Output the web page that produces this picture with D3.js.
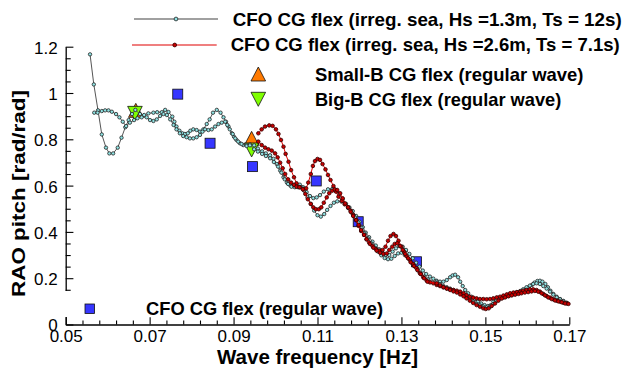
<!DOCTYPE html>
<html lang="en">
<head>
<meta charset="UTF-8">
<title>RAO pitch</title>
<script src="https://cdnjs.cloudflare.com/ajax/libs/d3/7.8.5/d3.min.js"></script>
<style>
  body{margin:0;background:#fff;}
  svg{display:block;font-family:"Liberation Sans",Arial,sans-serif;}
</style>
</head>
<body>
<svg id="chart" width="627" height="369"></svg>
<script>
// irregular sea Hs=1.3m Ts=12s (two runs) [freq Hz, RAO]
var cyanA = [[0.0558,1.167],[0.0567,1.037],[0.0577,0.925],[0.0586,0.821],[0.0596,0.764],[0.0604,0.739],[0.0613,0.739],[0.0624,0.764],[0.0633,0.807],[0.0642,0.852],[0.0650,0.883],[0.0658,0.909],[0.0666,0.927],[0.0677,0.909],[0.0687,0.905],[0.0697,0.912],[0.0709,0.915],[0.0718,0.917],[0.0729,0.917],[0.0737,0.927],[0.0745,0.918],[0.0754,0.898],[0.0759,0.876],[0.0764,0.855],[0.0771,0.837],[0.0778,0.826],[0.0784,0.823],[0.0791,0.826],[0.0797,0.837],[0.0804,0.843],[0.0812,0.840],[0.0820,0.833],[0.0828,0.843],[0.0836,0.866],[0.0843,0.886],[0.0851,0.915],[0.0860,0.927],[0.0869,0.915],[0.0876,0.895],[0.0882,0.876],[0.0888,0.855],[0.0896,0.826],[0.0901,0.811],[0.0907,0.797],[0.0915,0.783],[0.0923,0.775],[0.0931,0.775],[0.0939,0.778],[0.0949,0.774],[0.0958,0.760],[0.0968,0.748],[0.0977,0.739],[0.0987,0.731],[0.0995,0.716],[0.1003,0.693],[0.1011,0.665],[0.1019,0.636],[0.1027,0.613],[0.1035,0.601],[0.1043,0.598],[0.1050,0.601],[0.1058,0.604],[0.1066,0.593],[0.1074,0.572],[0.1082,0.555],[0.1090,0.546],[0.1098,0.549],[0.1106,0.559],[0.1115,0.574],[0.1125,0.584],[0.1135,0.585],[0.1144,0.581],[0.1152,0.564],[0.1160,0.541],[0.1168,0.521],[0.1176,0.506],[0.1184,0.490],[0.1192,0.469],[0.1200,0.444],[0.1208,0.420],[0.1215,0.397],[0.1223,0.377],[0.1231,0.358],[0.1239,0.341],[0.1247,0.325],[0.1255,0.310],[0.1263,0.300],[0.1271,0.300],[0.1279,0.315],[0.1287,0.329],[0.1295,0.339],[0.1303,0.336],[0.1311,0.322],[0.1319,0.305],[0.1327,0.286],[0.1335,0.267],[0.1343,0.250],[0.1351,0.233],[0.1359,0.218],[0.1368,0.207],[0.1376,0.198],[0.1384,0.189],[0.1392,0.185],[0.1400,0.185],[0.1408,0.192],[0.1416,0.204],[0.1422,0.212],[0.1428,0.215],[0.1435,0.204],[0.1440,0.185],[0.1446,0.166],[0.1452,0.149],[0.1459,0.135],[0.1467,0.120],[0.1475,0.109],[0.1482,0.099],[0.1490,0.091],[0.1498,0.084],[0.1506,0.080],[0.1513,0.084],[0.1519,0.099],[0.1525,0.109],[0.1532,0.115],[0.1540,0.117],[0.1548,0.120],[0.1556,0.123],[0.1563,0.127],[0.1571,0.132],[0.1579,0.138],[0.1587,0.143],[0.1595,0.152],[0.1603,0.161],[0.1611,0.171],[0.1617,0.181],[0.1624,0.188],[0.1630,0.189],[0.1636,0.185],[0.1643,0.175],[0.1649,0.161],[0.1655,0.146],[0.1662,0.132],[0.1670,0.120],[0.1678,0.110],[0.1686,0.102],[0.1694,0.094]];
var cyanB = [[0.0568,0.915],[0.0576,0.915],[0.0586,0.922],[0.0594,0.925],[0.0602,0.925],[0.0610,0.919],[0.0620,0.909],[0.0628,0.895],[0.0636,0.876],[0.0644,0.857],[0.0653,0.872],[0.0663,0.883],[0.0671,0.891],[0.0681,0.895],[0.0693,0.895],[0.0701,0.883],[0.0709,0.879],[0.0717,0.886],[0.0725,0.901],[0.0733,0.909],[0.0741,0.905],[0.0749,0.886],[0.0757,0.862],[0.0764,0.843],[0.0772,0.826],[0.0780,0.814],[0.0788,0.809],[0.0796,0.804],[0.0804,0.804],[0.0812,0.809],[0.0820,0.819],[0.0826,0.833],[0.0832,0.843],[0.0840,0.840],[0.0848,0.843],[0.0856,0.855],[0.0864,0.866],[0.0872,0.872],[0.0880,0.876],[0.0885,0.862],[0.0891,0.843],[0.0898,0.823],[0.0904,0.804],[0.0911,0.790],[0.0919,0.780],[0.0931,0.771],[0.0939,0.774],[0.0949,0.757],[0.0958,0.747],[0.0968,0.737],[0.0977,0.728],[0.0987,0.718],[0.0996,0.702],[0.1006,0.682],[0.1014,0.656],[0.1022,0.627],[0.1030,0.607],[0.1038,0.595],[0.1046,0.593],[0.1054,0.593],[0.1062,0.593],[0.1068,0.578],[0.1076,0.549],[0.1084,0.521],[0.1092,0.492],[0.1100,0.472],[0.1108,0.466],[0.1116,0.477],[0.1123,0.495],[0.1131,0.512],[0.1139,0.526],[0.1147,0.532],[0.1157,0.531],[0.1165,0.521],[0.1173,0.503],[0.1181,0.483],[0.1189,0.463],[0.1197,0.440],[0.1205,0.417],[0.1212,0.394],[0.1220,0.372],[0.1228,0.351],[0.1236,0.332],[0.1244,0.315],[0.1252,0.299],[0.1260,0.287],[0.1268,0.282],[0.1276,0.284],[0.1284,0.296],[0.1292,0.307],[0.1300,0.310],[0.1308,0.300],[0.1316,0.286],[0.1324,0.267],[0.1332,0.250],[0.1340,0.233],[0.1347,0.218],[0.1355,0.207],[0.1363,0.195],[0.1384,0.185],[0.1392,0.175],[0.1400,0.166],[0.1408,0.161],[0.1416,0.155],[0.1424,0.149],[0.1432,0.143],[0.1440,0.138],[0.1448,0.130],[0.1455,0.120],[0.1463,0.109],[0.1471,0.099],[0.1479,0.089],[0.1487,0.083],[0.1495,0.077],[0.1503,0.074],[0.1511,0.077],[0.1519,0.089],[0.1527,0.103],[0.1535,0.112],[0.1543,0.117],[0.1551,0.123],[0.1559,0.129],[0.1567,0.135],[0.1575,0.139],[0.1583,0.145],[0.1590,0.152],[0.1598,0.161],[0.1606,0.168],[0.1614,0.175],[0.1622,0.178],[0.1630,0.175],[0.1638,0.166],[0.1646,0.155],[0.1654,0.142],[0.1662,0.129],[0.1670,0.117],[0.1678,0.109],[0.1686,0.100],[0.1694,0.093]];

// irregular sea Hs=2.6m Ts=7.1s (two runs)
var redA = [[0.0959,0.826],[0.0967,0.843],[0.0975,0.855],[0.0985,0.860],[0.0993,0.858],[0.1001,0.843],[0.1007,0.823],[0.1013,0.797],[0.1019,0.768],[0.1024,0.737],[0.1031,0.703],[0.1037,0.667],[0.1044,0.636],[0.1050,0.610],[0.1058,0.593],[0.1066,0.584],[0.1073,0.588],[0.1078,0.613],[0.1084,0.650],[0.1089,0.685],[0.1094,0.706],[0.1100,0.715],[0.1106,0.711],[0.1112,0.693],[0.1119,0.670],[0.1125,0.646],[0.1131,0.624],[0.1138,0.598],[0.1144,0.574],[0.1150,0.552],[0.1158,0.534],[0.1165,0.519],[0.1173,0.506],[0.1179,0.492],[0.1185,0.473],[0.1192,0.451],[0.1198,0.426],[0.1204,0.404],[0.1211,0.387],[0.1217,0.368],[0.1223,0.354],[0.1231,0.339],[0.1239,0.326],[0.1247,0.319],[0.1255,0.322],[0.1262,0.336],[0.1268,0.362],[0.1274,0.382],[0.1281,0.391],[0.1287,0.382],[0.1293,0.362],[0.1300,0.336],[0.1306,0.315],[0.1312,0.296],[0.1320,0.279],[0.1328,0.261],[0.1336,0.243],[0.1344,0.221],[0.1352,0.204],[0.1360,0.190],[0.1368,0.182],[0.1376,0.178],[0.1384,0.171],[0.1392,0.166],[0.1400,0.161],[0.1408,0.156],[0.1416,0.152],[0.1424,0.149],[0.1432,0.146],[0.1440,0.142],[0.1448,0.135],[0.1455,0.127],[0.1463,0.120],[0.1471,0.116],[0.1479,0.113],[0.1487,0.110],[0.1495,0.110],[0.1503,0.109],[0.1511,0.110],[0.1519,0.113],[0.1527,0.117],[0.1535,0.120],[0.1543,0.125],[0.1551,0.130],[0.1559,0.135],[0.1567,0.138],[0.1575,0.140],[0.1583,0.142],[0.1590,0.146],[0.1598,0.149],[0.1606,0.152],[0.1614,0.152],[0.1622,0.149],[0.1630,0.142],[0.1638,0.132],[0.1646,0.123],[0.1654,0.116],[0.1662,0.109],[0.1670,0.103],[0.1678,0.099],[0.1686,0.094],[0.1694,0.091]];
var redB = [[0.0959,0.790],[0.0967,0.775],[0.0975,0.764],[0.0983,0.757],[0.0991,0.751],[0.0999,0.739],[0.1005,0.722],[0.1011,0.699],[0.1017,0.675],[0.1023,0.650],[0.1030,0.627],[0.1037,0.613],[0.1044,0.603],[0.1050,0.595],[0.1057,0.593],[0.1065,0.584],[0.1071,0.564],[0.1077,0.541],[0.1084,0.521],[0.1090,0.506],[0.1096,0.498],[0.1103,0.498],[0.1109,0.506],[0.1115,0.526],[0.1122,0.549],[0.1128,0.567],[0.1135,0.578],[0.1141,0.584],[0.1147,0.581],[0.1154,0.567],[0.1160,0.545],[0.1166,0.523],[0.1173,0.506],[0.1179,0.487],[0.1185,0.469],[0.1192,0.451],[0.1198,0.430],[0.1204,0.408],[0.1211,0.387],[0.1217,0.368],[0.1225,0.348],[0.1233,0.332],[0.1241,0.319],[0.1249,0.310],[0.1257,0.305],[0.1265,0.307],[0.1271,0.322],[0.1278,0.336],[0.1284,0.348],[0.1290,0.351],[0.1297,0.339],[0.1303,0.322],[0.1309,0.305],[0.1316,0.286],[0.1322,0.269],[0.1330,0.253],[0.1338,0.235],[0.1346,0.218],[0.1354,0.200],[0.1362,0.185],[0.1384,0.178],[0.1392,0.169],[0.1400,0.161],[0.1408,0.155],[0.1416,0.149],[0.1424,0.143],[0.1432,0.138],[0.1440,0.130],[0.1448,0.122],[0.1455,0.113],[0.1463,0.103],[0.1471,0.093],[0.1479,0.084],[0.1487,0.077],[0.1495,0.070],[0.1501,0.067],[0.1508,0.070],[0.1515,0.080],[0.1523,0.091],[0.1531,0.103],[0.1539,0.112],[0.1547,0.117],[0.1555,0.122],[0.1563,0.126],[0.1571,0.129],[0.1579,0.132],[0.1586,0.135],[0.1594,0.138],[0.1602,0.140],[0.1610,0.143],[0.1618,0.145],[0.1626,0.142],[0.1634,0.135],[0.1642,0.126],[0.1650,0.117],[0.1658,0.110],[0.1666,0.104],[0.1674,0.100],[0.1682,0.096],[0.1690,0.091],[0.1698,0.089]];

// regular wave tests
var cfoRegular = [[0.0767,0.995],[0.0844,0.783],[0.0945,0.682],[0.1097,0.620],[0.1197,0.444],[0.1336,0.271]];
var smallBRegular = [[0.0667,0.925],[0.0943,0.804]];
var bigBRegular = [[0.0665,0.912],[0.0943,0.754]];

var xTicks = [0.05,0.07,0.09,0.11,0.13,0.15,0.17];
var xTickLabels = ["0.05","0.07","0.09","0.11","0.13","0.15","0.17"];
var yTicks = [0,0.2,0.4,0.6,0.8,1,1.2];
var yTickLabels = ["0","0.2","0.4","0.6","0.8","1","1.2"];

var svg = d3.select("#chart");

var x = d3.scaleLinear().domain([0.05,0.17]).range([65.7,569.3]);
var y = d3.scaleLinear().domain([0,1.2]).range([324.5,46.7]);

// minor ticks
var xMinor = d3.range(0.05,0.1701,0.004).filter(function(d){ return Math.abs(((d-0.05)/0.02)-Math.round((d-0.05)/0.02))>0.01; });
var yMinor = d3.range(0,1.2001,0.05).filter(function(d){ return Math.abs(d/0.2-Math.round(d/0.2))>0.01; });

var gx = svg.append("g").attr("transform","translate(0,324.5)");
gx.call(d3.axisBottom(x).tickValues(xTicks).tickFormat(function(d,i){ return xTickLabels[i]; })
   .tickSize(-7.3).tickSizeOuter(0).tickPadding(5));
gx.append("g").call(d3.axisBottom(x).tickValues(xMinor).tickFormat("").tickSize(-4).tickSizeOuter(0))
  .select(".domain").remove();

var gy = svg.append("g").attr("transform","translate(65.7,0)");
gy.call(d3.axisLeft(y).tickValues(yTicks).tickFormat(function(d,i){ return yTickLabels[i]; })
   .tickSize(-7.7).tickSizeOuter(0).tickPadding(8));
gy.append("g").call(d3.axisLeft(y).tickValues(yMinor).tickFormat("").tickSize(-5).tickSizeOuter(0))
  .select(".domain").remove();

svg.selectAll(".tick text").attr("font-size",17).attr("font-family","Liberation Sans, Arial, sans-serif").attr("fill","#000");
gy.selectAll(".tick text").attr("dy","0.38em");
svg.selectAll(".domain").attr("stroke","#000").attr("stroke-width",1.3);
svg.selectAll(".tick line").attr("stroke","#000").attr("stroke-width",1.1);

// legend box hides the lower part of the y axis
svg.append("rect").attr("x",58).attr("y",291).attr("width",337).attr("height",26).attr("fill","#fff");

// regular wave markers
var tri = function(cx,cy,up){
  var w = 7.3, h = 7;
  return up ? "M"+cx+","+(cy-h)+"L"+(cx+w)+","+(cy+h)+"L"+(cx-w)+","+(cy+h)+"Z"
            : "M"+cx+","+(cy+h)+"L"+(cx+w)+","+(cy-h)+"L"+(cx-w)+","+(cy-h)+"Z";
};
svg.selectAll(".sq").data(cfoRegular).enter().append("rect")
  .attr("x",function(d){ return x(d[0])-5; }).attr("y",function(d){ return y(d[1])-5; })
  .attr("width",10).attr("height",10).attr("fill","#3636ff").attr("stroke","#111").attr("stroke-width",0.8);
svg.selectAll(".tu").data(smallBRegular).enter().append("path")
  .attr("d",function(d){ return tri(x(d[0]),y(d[1]),true); })
  .attr("fill","#ff7a00").attr("stroke","#111").attr("stroke-width",0.8);
svg.selectAll(".td").data(bigBRegular).enter().append("path")
  .attr("d",function(d){ return tri(x(d[0]),y(d[1]),false); })
  .attr("fill","#7fff00").attr("stroke","#111").attr("stroke-width",0.8);

var line = d3.line().x(function(d){ return x(d[0]); }).y(function(d){ return y(d[1]); });

function drawSeries(data, lineColor, fill, stroke, r){
  svg.append("path").datum(data).attr("d",line).attr("fill","none")
     .attr("stroke",lineColor).attr("stroke-width",1);
  svg.append("g").selectAll("circle").data(data).enter().append("circle")
     .attr("cx",function(d){ return x(d[0]); }).attr("cy",function(d){ return y(d[1]); })
     .attr("r",r).attr("fill",fill).attr("stroke",stroke).attr("stroke-width",0.8);
}
drawSeries(cyanA,"#555","#8fe3e3","#222",1.7);
drawSeries(cyanB,"#555","#8fe3e3","#222",1.7);
drawSeries(redA,"#e00000","#c80000","#300",1.8);
drawSeries(redB,"#e00000","#c80000","#300",1.8);

// top legend
svg.append("line").attr("x1",134).attr("x2",218).attr("y1",19).attr("y2",19).attr("stroke","#a0a0a0").attr("stroke-width",2);
svg.append("circle").attr("cx",176).attr("cy",19).attr("r",1.9).attr("fill","#8fe3e3").attr("stroke","#222").attr("stroke-width",0.8);
svg.append("text").attr("x",232.7).attr("y",26).attr("font-size",19).attr("font-weight","bold")
  .attr("textLength",389).attr("lengthAdjust","spacingAndGlyphs").text("CFO CG flex (irreg. sea, Hs =1.3m, Ts = 12s)");

svg.append("line").attr("x1",132).attr("x2",216.7).attr("y1",45).attr("y2",45).attr("stroke","#e00000").attr("stroke-width",1.2);
svg.append("circle").attr("cx",174.7).attr("cy",45).attr("r",1.9).attr("fill","#c80000").attr("stroke","#300").attr("stroke-width",0.8);
svg.append("text").attr("x",230.7).attr("y",51).attr("font-size",19).attr("font-weight","bold")
  .attr("textLength",389).attr("lengthAdjust","spacingAndGlyphs").text("CFO CG flex (irreg. sea, Hs =2.6m, Ts = 7.1s)");

svg.append("path").attr("d",tri(258.3,74,true)).attr("fill","#ff7a00").attr("stroke","#111").attr("stroke-width",0.8);
svg.append("text").attr("x",314.9).attr("y",81).attr("font-size",18.5).attr("font-weight","bold")
  .attr("textLength",268.6).attr("lengthAdjust","spacingAndGlyphs").text("Small-B CG flex (regular wave)");
svg.append("path").attr("d",tri(258.3,99.3,false)).attr("fill","#7fff00").attr("stroke","#111").attr("stroke-width",0.8);
svg.append("text").attr("x",314.9).attr("y",106).attr("font-size",18.5).attr("font-weight","bold")
  .attr("textLength",246.4).attr("lengthAdjust","spacingAndGlyphs").text("Big-B CG flex (regular wave)");

// bottom legend
svg.append("rect").attr("x",85).attr("y",304).attr("width",9.5).attr("height",9.5)
  .attr("fill","#3636ff").attr("stroke","#111").attr("stroke-width",0.8);
svg.append("text").attr("x",146).attr("y",315).attr("font-size",18.5).attr("font-weight","bold")
  .attr("textLength",237).attr("lengthAdjust","spacingAndGlyphs").text("CFO CG flex (regular wave)");

// axis titles
svg.append("text").attr("x",317.5).attr("y",364).attr("text-anchor","middle")
  .attr("font-size",20).attr("font-weight","bold")
  .attr("textLength",201).attr("lengthAdjust","spacingAndGlyphs").text("Wave frequency [Hz]");
svg.append("text").attr("transform","translate(25,193.5) rotate(-90)").attr("text-anchor","middle")
  .attr("font-size",19).attr("font-weight","bold")
  .attr("textLength",207).attr("lengthAdjust","spacingAndGlyphs").text("RAO pitch [rad/rad]");
</script>
</body>
</html>
